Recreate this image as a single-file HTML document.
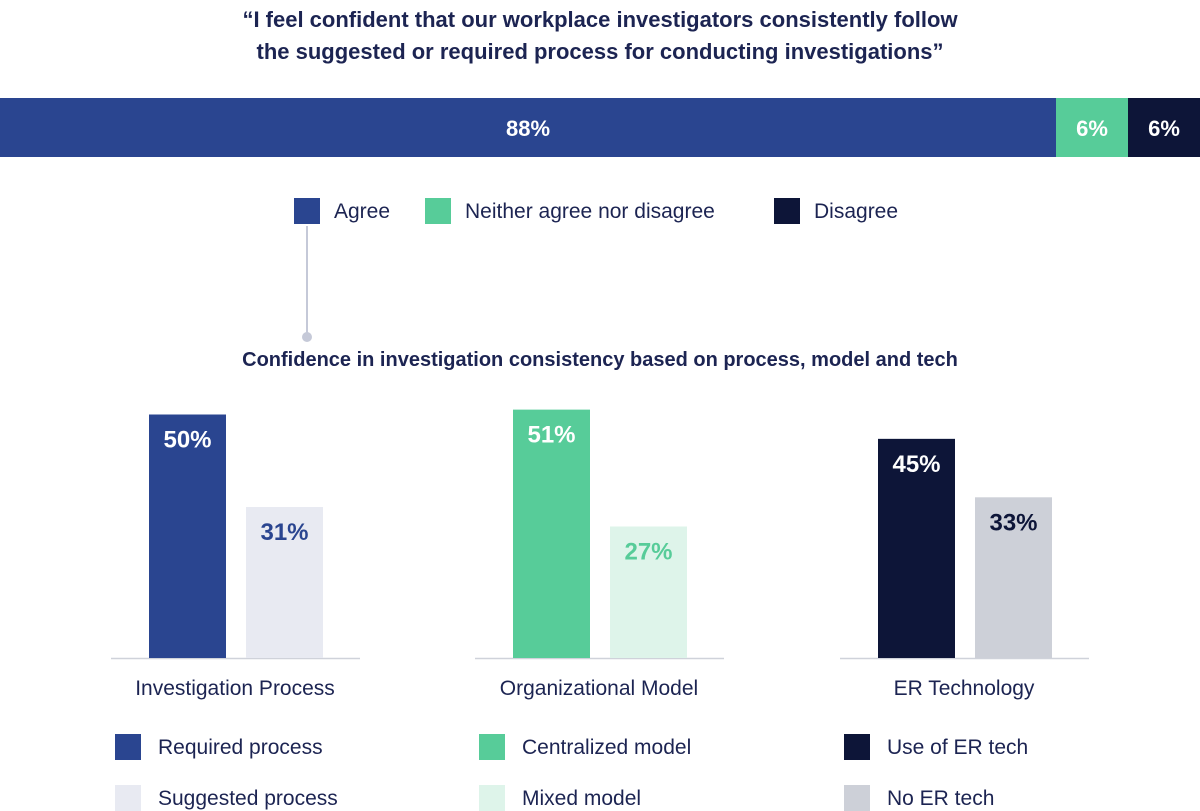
<!DOCTYPE html>
<html><head><meta charset="utf-8"><style>
body{margin:0;width:1200px;height:811px;background:#fff;font-family:"Liberation Sans",sans-serif;overflow:hidden;position:relative}
.t{position:absolute;white-space:nowrap}
</style></head><body>
<div class="t" style="left:0;width:1200px;text-align:center;top:4px;font-size:22px;font-weight:bold;color:#1c2452;line-height:32px">“I feel confident that our workplace investigators consistently follow<br>the suggested or required process for conducting investigations”</div>
<svg id="c" width="1200" height="811" style="position:absolute;left:0;top:0"></svg>
<script>
const stackLabels=["Agree","Neither agree nor disagree","Disagree"];
const stackValues=[88,6,6];
const stackColors=["#2a4590","#57cc99","#0d1538"];
const groups=["Investigation Process","Organizational Model","ER Technology"];
const seriesA=[50,51,45];
const seriesB=[31,27,33];
const labelsA=["Required process","Centralized model","Use of ER tech"];
const labelsB=["Suggested process","Mixed model","No ER tech"];
const colA=["#2a4590","#57cc99","#0d1538"];
const colB=["#e8eaf2","#def4ea","#cdd0d8"];
const txtB=["#2a4590","#57cc99","#0d1538"];
const svg=document.getElementById('c');const NS='http://www.w3.org/2000/svg';
function mk(t,a,p){const e=document.createElementNS(NS,t);for(const k in a)e.setAttribute(k,a[k]);(p||svg).appendChild(e);return e;}
const total=stackValues.reduce((a,b)=>a+b,0);
let x=0;
stackValues.forEach((v,i)=>{const w=v/total*1200;
const r=mk('rect',{x:x,y:98,width:w,height:59,fill:stackColors[i]});


const t=mk('text',{x:x+w/2,y:136,'text-anchor':'middle','font-size':22,'font-weight':'bold',fill:'#fff','font-family':'Liberation Sans'});t.textContent=v+'%';


x+=w;});
const legX=[294,425,774];
stackLabels.forEach((l,i)=>{
const r=mk('rect',{x:legX[i],y:198,width:26,height:26,fill:stackColors[i]});


const t=mk('text',{x:legX[i]+40,y:218,'font-size':21,fill:'#1c2452','font-family':'Liberation Sans'});t.textContent=l;

});
const ln=mk('line',{x1:307,y1:226,x2:307,y2:336,stroke:'#c5c9d8','stroke-width':2});


const dot=mk('circle',{cx:307,cy:337,r:5,fill:'#c5c9d8'});


const st=mk('text',{x:600,y:366,'text-anchor':'middle','font-size':20,'font-weight':'bold',fill:'#1c2452','font-family':'Liberation Sans'});st.textContent='Confidence in investigation consistency based on process, model and tech';


const base=658,scale=4.87,bw=77;
const gx=[149,513,878];
function yv(v){return base-v*scale;}
groups.forEach((g,i)=>{
const l=mk('line',{x1:gx[i]-38,y1:base+0.5,x2:gx[i]+211,y2:base+0.5,stroke:'#cfd2da','stroke-width':1.5});


[[seriesA[i],colA[i],'#fff',0],[seriesB[i],colB[i],txtB[i],97]].forEach(([v,c,tc,off],j)=>{
const r=mk('rect',{x:gx[i]+off,y:yv(v),width:bw,height:v*scale,fill:c});


const t=mk('text',{x:gx[i]+off+bw/2,y:yv(v)+33,'text-anchor':'middle','font-size':24,'font-weight':'bold',fill:tc,'font-family':'Liberation Sans'});t.textContent=v+'%';

});
const ct=mk('text',{x:gx[i]+86,y:695,'text-anchor':'middle','font-size':21,fill:'#1c2452','font-family':'Liberation Sans'});ct.textContent=g;


[[labelsA[i],colA[i],734],[labelsB[i],colB[i],785]].forEach(([lb,c,y],j)=>{
const r=mk('rect',{x:gx[i]-34,y:y,width:26,height:26,fill:c});


const t=mk('text',{x:gx[i]+9,y:y+20,'font-size':21,fill:'#1c2452','font-family':'Liberation Sans'});t.textContent=lb;

});
});
</script>
</body></html>
